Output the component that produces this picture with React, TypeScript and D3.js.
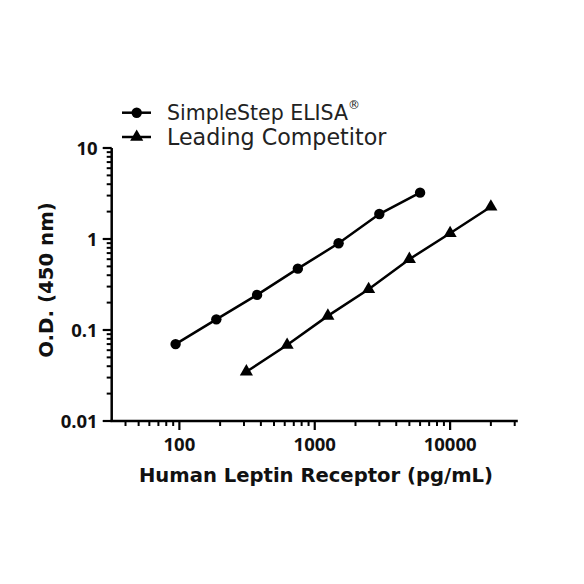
import React from "react";
import * as d3 from "d3";

const simpleStepConc = [93.75, 187.5, 375, 750, 1500, 3000, 6000];
const simpleStepOD = [0.07, 0.131, 0.243, 0.472, 0.897, 1.88, 3.23];
const competitorConc = [312.5, 625, 1250, 2500, 5000, 10000, 20000];
const competitorOD = [0.0348, 0.0684, 0.143, 0.28, 0.6, 1.155, 2.26];

const xMajorTicks = [100, 1000, 10000];
const xTickLabels = ["100", "1000", "10000"];
const yMajorTicks = [0.01, 0.1, 1, 10];
const yTickLabels = ["0.01", "0.1", "1", "10"];
const seriesNames = ["SimpleStep ELISA", "Leading Competitor"];
const xTitle = "Human Leptin Receptor (pg/mL)";
const yTitle = "O.D. (450 nm)";

const W = 584;
const H = 584;
const left = 111.7;
const right = 517.8;
const top = 148;
const bottom = 421;

export default function App() {
  const x = d3.scaleLog().domain([Math.pow(10, 1.5), Math.pow(10, 4.5)]).range([left, right]);
  const y = d3.scaleLog().domain([0.01, 10]).range([bottom, top]);

  const xMinor: number[] = [];
  for (const dec of [10, 100, 1000, 10000]) {
    for (let k = 2; k <= 9; k++) {
      const v = dec * k;
      if (v >= x.domain()[0] && v <= x.domain()[1] * 1.0001) xMinor.push(v);
    }
  }
  const yMinor: number[] = [];
  for (const dec of [0.01, 0.1, 1]) {
    for (let k = 2; k <= 9; k++) yMinor.push(dec * k);
  }

  const line = d3
    .line<[number, number]>()
    .x((d) => x(d[0]))
    .y((d) => y(d[1]));

  const s1 = simpleStepConc.map((c, i) => [c, simpleStepOD[i]] as [number, number]);
  const s2 = competitorConc.map((c, i) => [c, competitorOD[i]] as [number, number]);

  const tri = d3.symbol().type(d3.symbolTriangle).size(75)();

  const titleFont = "'DejaVu Sans', sans-serif";
  const tickFont = "'Open Sans', 'DejaVu Sans', sans-serif";
  const legendFont = "'DejaVu Sans', sans-serif";

  return (
    <svg width={W} height={H} style={{ position: "absolute", left: 0, top: 0, background: "#fff" }}>
      <rect x={0} y={0} width={W} height={H} fill="#fff" />
      {/* axes */}
      <line x1={left} x2={left} y1={top} y2={bottom} stroke="#000" strokeWidth={2.5} />
      <line x1={left - 1.2} x2={right} y1={bottom} y2={bottom} stroke="#000" strokeWidth={2.5} />
      {yMajorTicks.map((v, i) => (
        <g key={"ym" + i}>
          <line x1={left - 9} x2={left} y1={y(v)} y2={y(v)} stroke="#000" strokeWidth={2.2} />
          <text
            x={left - 14}
            y={y(v)}
            dy="0.36em"
            textAnchor="end"
            fontFamily={tickFont}
            fontWeight="bold"
            fontSize={18.5}
            fill="#111"
          >
            {yTickLabels[i]}
          </text>
        </g>
      ))}
      {yMinor.map((v, i) => (
        <line key={"yn" + i} x1={left - 5} x2={left} y1={y(v)} y2={y(v)} stroke="#000" strokeWidth={2} />
      ))}
      {xMajorTicks.map((v, i) => (
        <g key={"xm" + i}>
          <line x1={x(v)} x2={x(v)} y1={bottom} y2={bottom + 9} stroke="#000" strokeWidth={2.2} />
          <text
            x={x(v)}
            y={bottom + 23}
            dy="0.36em"
            textAnchor="middle"
            fontFamily={tickFont}
            fontWeight="bold"
            fontSize={18.5}
            fill="#111"
          >
            {xTickLabels[i]}
          </text>
        </g>
      ))}
      {xMinor.map((v, i) => (
        <line key={"xn" + i} x1={x(v)} x2={x(v)} y1={bottom} y2={bottom + 5} stroke="#000" strokeWidth={2} />
      ))}
      <text
        x={316}
        y={482}
        textAnchor="middle"
        fontFamily={titleFont}
        fontWeight="bold"
        fontSize={19.6}
        fill="#111"
      >
        {xTitle}
      </text>
      <text
        transform={`translate(53,280) rotate(-90)`}
        textAnchor="middle"
        fontFamily={titleFont}
        fontWeight="bold"
        fontSize={19.8}
        fill="#111"
      >
        {yTitle}
      </text>

      {/* series */}
      <path d={line(s1) || ""} fill="none" stroke="#000" strokeWidth={2.5} />
      {s1.map((d, i) => (
        <circle key={"c" + i} cx={x(d[0])} cy={y(d[1])} r={5.2} fill="#000" />
      ))}
      <path d={line(s2) || ""} fill="none" stroke="#000" strokeWidth={2.5} />
      {s2.map((d, i) => (
        <path key={"t" + i} d={tri || ""} transform={`translate(${x(d[0])},${y(d[1])})`} fill="#000" />
      ))}

      {/* legend */}
      <g>
        <line x1={122} x2={151} y1={112.7} y2={112.7} stroke="#000" strokeWidth={2.5} />
        <circle cx={136.7} cy={112.7} r={5.2} fill="#000" />
        <text x={167} y={112.7} dy="0.36em" fontFamily={legendFont} fontSize={20.5} fill="#222">
          {seriesNames[0]}
          <tspan fontSize={12} dy="-0.9em">®</tspan>
        </text>
        <line x1={122} x2={151} y1={137} y2={137} stroke="#000" strokeWidth={2.5} />
        <path d={tri || ""} transform={`translate(136.7,137)`} fill="#000" />
        <text x={167} y={137} dy="0.36em" fontFamily={legendFont} fontSize={22.2} fill="#222">
          {seriesNames[1]}
        </text>
      </g>
    </svg>
  );
}
